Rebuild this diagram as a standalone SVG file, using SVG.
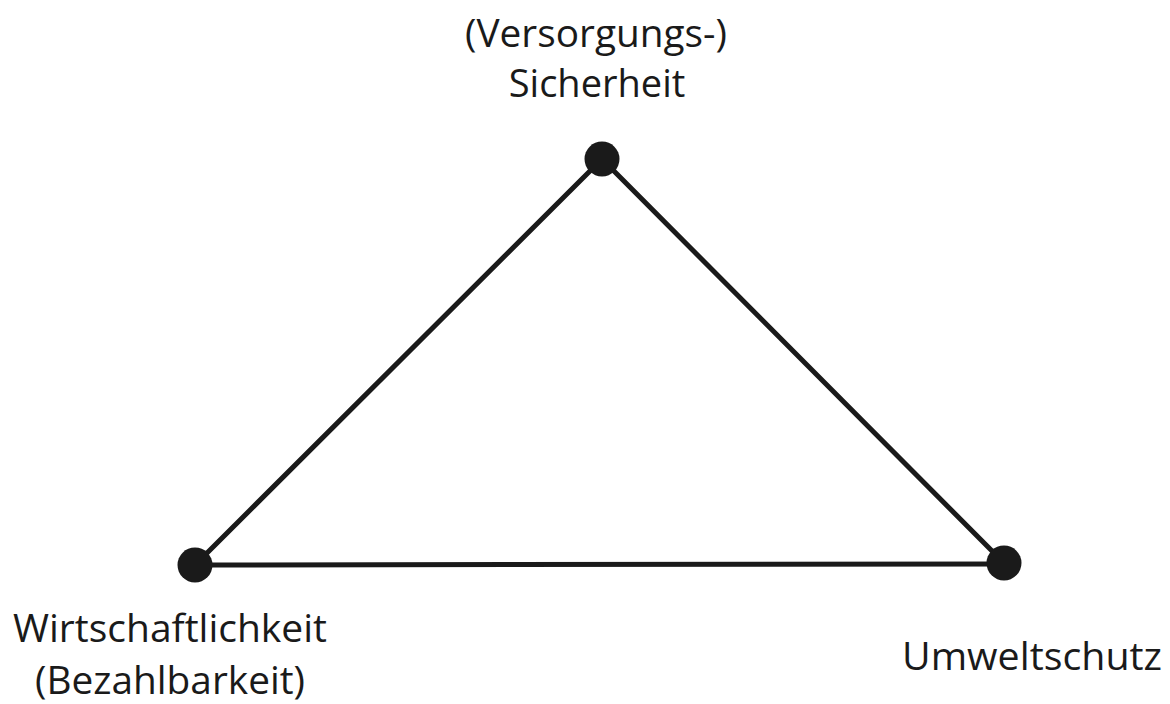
<svg xmlns="http://www.w3.org/2000/svg" width="1170" height="704" viewBox="0 0 1170 704">
  <style>
    .lbl { font-family: "Open Sans", "Noto Sans", "Liberation Sans", sans-serif; font-size: 38px; fill: #1a1a1a; text-anchor: middle; }
    .edge { stroke: #1a1a1a; stroke-width: 5; stroke-linecap: round; fill: none; }
    .dot { fill: #1a1a1a; }
  </style>
  <rect width="1170" height="704" fill="#ffffff"/>
  <g id="connectors">
    <line class="edge" x1="602" y1="159" x2="195" y2="565"/>
    <line class="edge" x1="602" y1="159" x2="1004" y2="563"/>
    <line class="edge" x1="195" y1="565" x2="1004" y2="564"/>
  </g>
  <g id="node-sicherheit">
    <circle class="dot" cx="602" cy="159" r="17.5"/>
    <text class="lbl" x="596" y="47" textLength="262" lengthAdjust="spacingAndGlyphs">(Versorgungs-)</text>
    <text class="lbl" x="597" y="97">Sicherheit</text>
  </g>
  <g id="node-wirtschaftlichkeit">
    <circle class="dot" cx="195" cy="565" r="17.5"/>
    <text class="lbl" x="170" y="642" textLength="314" lengthAdjust="spacingAndGlyphs">Wirtschaftlichkeit</text>
    <text class="lbl" x="170" y="694" textLength="270" lengthAdjust="spacingAndGlyphs">(Bezahlbarkeit)</text>
  </g>
  <g id="node-umweltschutz">
    <circle class="dot" cx="1004" cy="563" r="17.5"/>
    <text class="lbl" x="1032" y="670" textLength="260" lengthAdjust="spacingAndGlyphs">Umweltschutz</text>
  </g>
</svg>
